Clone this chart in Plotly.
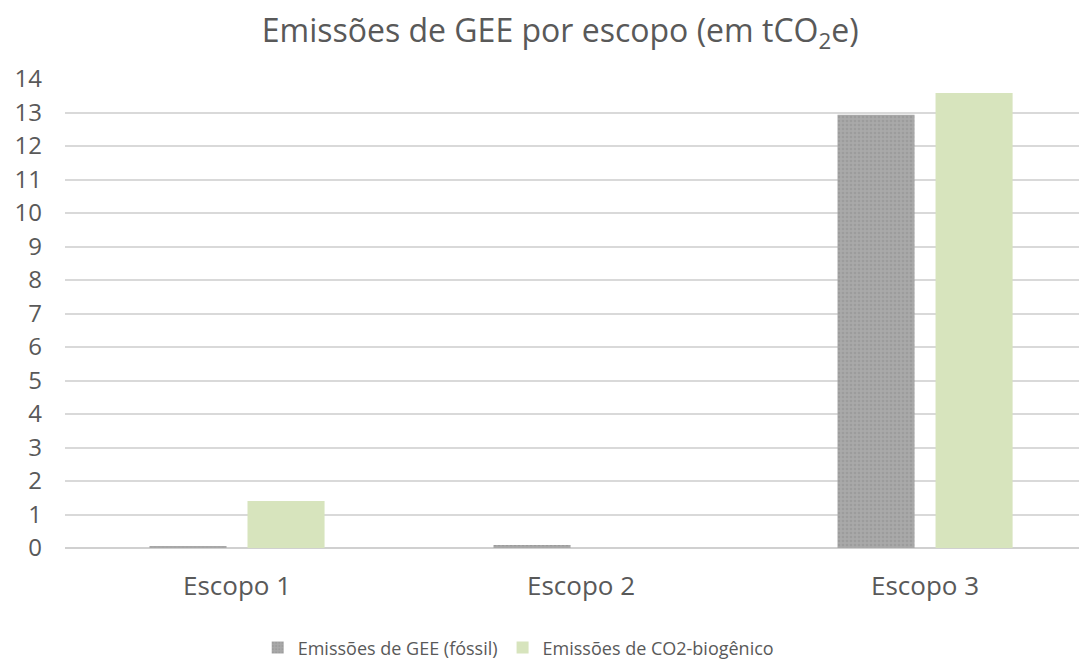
import plotly.graph_objects as go

categories = ["Escopo 1", "Escopo 2", "Escopo 3"]
fossil = [0.05, 0.09, 12.93]
biogenic = [1.40, 0.0, 13.58]
series_names = ["Emissões de GEE (fóssil)", "Emissões de CO2-biogênico"]
y_ticks = list(range(0, 15))

font_family = "Open Sans, Liberation Sans, sans-serif"
text_color = "#595959"

fig = go.Figure()
fig.add_trace(go.Bar(x=categories, y=fossil, name=series_names[0],
                     marker=dict(color="#a6a6a6", line=dict(width=0),
                                 pattern=dict(shape=".", bgcolor="#a9a9a9",
                                              fgcolor="#9c9c9c", size=4,
                                              solidity=0.35, fillmode="replace"))))
fig.add_trace(go.Bar(x=categories, y=biogenic, name=series_names[1],
                     marker=dict(color="#d7e4bd", line=dict(width=0))))

fig.update_layout(
    width=1087, height=662,
    paper_bgcolor="white", plot_bgcolor="white",
    margin=dict(l=57, r=0, t=71, b=122),
    barmode="group", bargap=0.43, bargroupgap=0.214,
    title=dict(text="Emissões de GEE por escopo (em tCO<sub>2</sub>e)",
               x=0.508, xanchor="center", y=0.965, yanchor="middle",
               font=dict(family=font_family, size=32, color=text_color)),
    font=dict(family=font_family, color=text_color),
    showlegend=True,
    legend=dict(orientation="h", x=0.44, xanchor="center", y=-0.213, yanchor="middle",
                font=dict(size=18, color=text_color), itemwidth=30,
                traceorder="normal"),
    xaxis=dict(range=[-0.5, 2.494], showgrid=False, showline=False,
               ticks="", tickfont=dict(size=26, color=text_color),
               ticklabelstandoff=20, zeroline=False),
    yaxis=dict(range=[0, 14], tickvals=y_ticks, showgrid=True,
               gridcolor="#d9d9d9", gridwidth=1.5, zeroline=True,
               zerolinecolor="#d0d0d0", zerolinewidth=1.5,
               ticks="", tickfont=dict(size=24, color=text_color),
               ticklabelstandoff=22),
)

fig.write_html("out.html")
